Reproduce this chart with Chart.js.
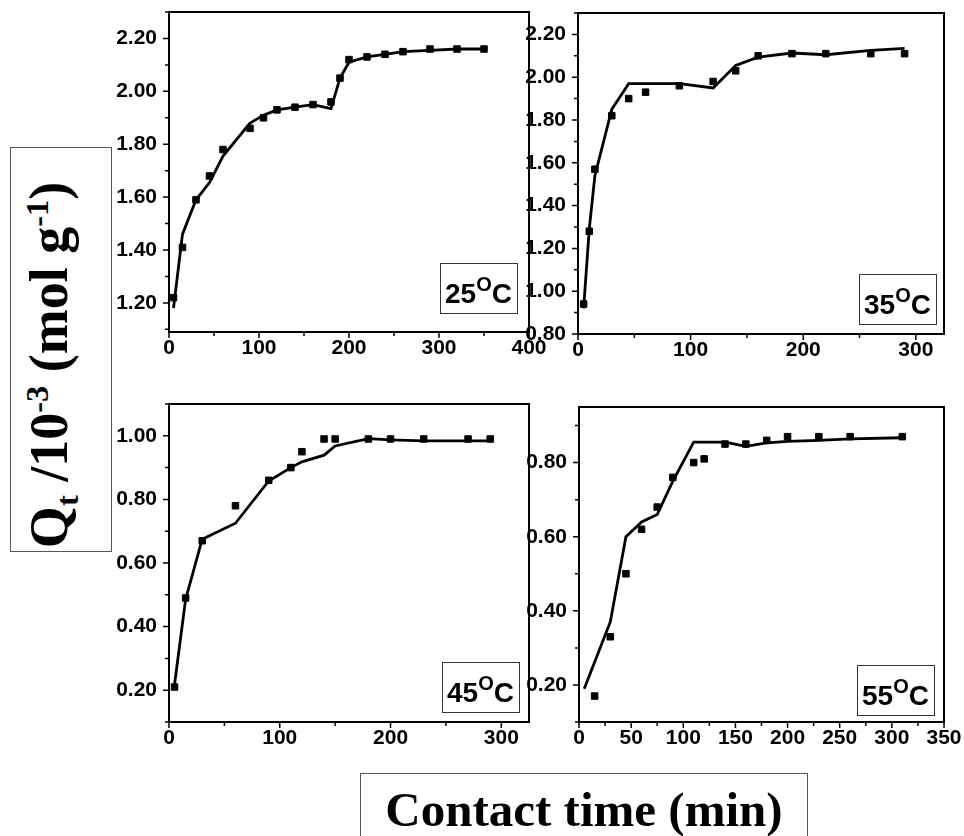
<!DOCTYPE html>
<html>
<head>
<meta charset="utf-8">
<script src="https://cdn.jsdelivr.net/npm/chart.js@4.4.0/dist/chart.umd.min.js"></script>
<style>
  body { margin: 0; background: #fff; width: 964px; height: 836px; position: relative; overflow: hidden; }
  canvas { position: absolute; }
  .ylab { position: absolute; left: 10px; top: 147px; width: 102px; height: 405px; border: 1px solid #555; box-sizing: border-box; }
  .ylab span { position: absolute; left: 50%; top: 50%; transform: translate(-50%, -50%) rotate(-90deg); margin-top: 15px; margin-left: -9px;
    white-space: nowrap; font: bold 54px "Liberation Serif", "Times New Roman", serif; color: #000; }
  .ylab sub, .ylab sup { font-size: 60%; }
  .xlab { position: absolute; left: 360px; top: 773px; width: 448px; height: 90px; border: 1px solid #555; box-sizing: border-box;
    font: bold 49px "Liberation Serif", "Times New Roman", serif; color: #000; text-align: center; line-height: 1; padding-top: 11px; }
</style>
</head>
<body>
<div class="ylab"><span>Q<sub>t</sub> /10<sup>-3</sup> (mol g<sup>-1</sup>)</span></div>
<div class="xlab">Contact time (min)</div>
<canvas id="c25" width="470" height="370" style="left:90px;top:0px"></canvas>
<canvas id="c35" width="459" height="370" style="left:505px;top:0px"></canvas>
<canvas id="c45" width="470" height="380" style="left:90px;top:380px"></canvas>
<canvas id="c55" width="459" height="380" style="left:505px;top:380px"></canvas>
<script>
// 25 oC
const t25 = [5, 15, 30, 45, 60, 90, 105, 120, 140, 160, 180, 190, 200, 220, 240, 260, 290, 320, 350];
const q25 = [1.22, 1.41, 1.59, 1.68, 1.78, 1.86, 1.90, 1.93, 1.94, 1.95, 1.96, 2.05, 2.12, 2.13, 2.14, 2.15, 2.16, 2.16, 2.16];
const fit25 = [1.18, 1.46, 1.59, 1.655, 1.755, 1.88, 1.91, 1.93, 1.94, 1.95, 1.935, 2.05, 2.11, 2.13, 2.14, 2.15, 2.155, 2.16, 2.16];

// 35 oC
const t35 = [5, 10, 15, 30, 45, 60, 90, 120, 140, 160, 190, 220, 260, 290];
const q35 = [0.94, 1.28, 1.57, 1.82, 1.90, 1.93, 1.96, 1.98, 2.03, 2.10, 2.11, 2.11, 2.11, 2.11];
const fit35 = [0.92, 1.29, 1.54, 1.85, 1.97, 1.97, 1.97, 1.95, 2.055, 2.094, 2.113, 2.105, 2.125, 2.135];

// 45 oC
const t45 = [5, 15, 30, 60, 90, 110, 120, 140, 150, 180, 200, 230, 270, 290];
const q45 = [0.21, 0.49, 0.67, 0.78, 0.86, 0.90, 0.95, 0.99, 0.99, 0.99, 0.99, 0.99, 0.99, 0.99];
const fit45 = [0.218, 0.486, 0.675, 0.725, 0.858, 0.90, 0.918, 0.939, 0.968, 0.991, 0.987, 0.984, 0.984, 0.984];

// 55 oC
const t55 = [15, 30, 45, 60, 75, 90, 110, 120, 140, 160, 180, 200, 230, 260, 310];
const q55 = [0.17, 0.33, 0.50, 0.62, 0.68, 0.76, 0.80, 0.81, 0.85, 0.85, 0.86, 0.87, 0.87, 0.87, 0.87];
const fitT55 = [5, 30, 45, 60, 75, 90, 110, 140, 160, 180, 200, 230, 260, 310];
const fit55 = [0.19, 0.37, 0.60, 0.64, 0.66, 0.75, 0.855, 0.855, 0.844, 0.853, 0.857, 0.86, 0.864, 0.867];

// tick labels
const xTicks400 = [0, 100, 200, 300, 400];
const xTicks300 = [0, 100, 200, 300];
const xTicks350 = [0, 50, 100, 150, 200, 250, 300, 350];
const yTicks25 = [1.20, 1.40, 1.60, 1.80, 2.00, 2.20];
const yTicks35 = [0.80, 1.00, 1.20, 1.40, 1.60, 1.80, 2.00, 2.20];
const yTicks45 = [0.20, 0.40, 0.60, 0.80, 1.00];
const yTicks55 = [0.20, 0.40, 0.60, 0.80];

const tickFont = { family: '"Liberation Sans", Arial, sans-serif', size: 21, weight: 'bold' };

// marco + marcas de ejes (mayores largas, menores cortas)
const frameTicks = {
    id: 'frameTicks',
    afterDraw(chart) {
        const { ctx, chartArea: a, scales } = chart;
        ctx.save();
        ctx.strokeStyle = '#000';
        ctx.lineWidth = 2;
        ctx.strokeRect(a.left, a.top, a.right - a.left, a.bottom - a.top);
        ctx.lineWidth = 1.5;
        ctx.beginPath();
        scales.x.ticks.forEach(t => {
            const px = scales.x.getPixelForValue(t.value);
            const len = t.label ? 6 : 4;
            ctx.moveTo(px, a.bottom); ctx.lineTo(px, a.bottom + len);
        });
        scales.y.ticks.forEach(t => {
            const py = scales.y.getPixelForValue(t.value);
            const len = t.label ? 6 : 4;
            ctx.moveTo(a.left, py); ctx.lineTo(a.left - len, py);
        });
        ctx.stroke();
        ctx.restore();
    }
};

// caja con la temperatura
const tempBox = {
    id: 'tempBox',
    afterDraw(chart, args, o) {
        const { ctx, chartArea: a } = chart;
        const w = 77, h = 50;
        const x = Math.round(a.right - o.right - w), y = Math.round(a.bottom - o.bottom - h);
        ctx.save();
        ctx.fillStyle = '#fff';
        ctx.fillRect(x, y, w, h);
        ctx.strokeStyle = '#333';
        ctx.lineWidth = 1;
        ctx.strokeRect(x + 0.5, y + 0.5, w, h);
        const big = 'bold 28px "Liberation Sans", Arial, sans-serif';
        const small = 'bold 20px "Liberation Sans", Arial, sans-serif';
        ctx.font = big; const w1 = ctx.measureText(o.deg).width; const w3 = ctx.measureText('C').width;
        ctx.font = small; const w2 = ctx.measureText('O').width;
        let cx = x + (w - (w1 + w2 + w3)) / 2;
        const base = y + h - 10;
        ctx.fillStyle = '#000';
        ctx.font = big; ctx.fillText(o.deg, cx, base); cx += w1;
        ctx.font = small; ctx.fillText('O', cx, base - 12); cx += w2;
        ctx.font = big; ctx.fillText('C', cx, base);
        ctx.restore();
    }
};

function buildTicks(min, max, majors, step) {
    return scale => {
        const out = [];
        for (let v = Math.ceil(min / step - 1e-6) * step; v <= max + 1e-9; v += step) {
            out.push({ value: Math.round(v * 1000) / 1000 });
        }
        scale.ticks = out;
    };
}

function isMajor(majors, v) {
    return majors.some(m => Math.abs(m - v) < 1e-6);
}

function makeChart(id, p) {
    const ctx = document.getElementById(id).getContext('2d');
    return new Chart(ctx, {
        type: 'scatter',
        data: {
            datasets: [{
                label: 'exp',
                data: p.t.map((x, i) => ({ x, y: p.q[i] })),
                backgroundColor: '#000',
                borderColor: '#000',
                pointStyle: 'rect',
                pointRadius: 4.6,
                showLine: false
            }, {
                label: 'fit',
                data: p.ft.map((x, i) => ({ x, y: p.fit[i] })),
                borderColor: '#000',
                borderWidth: 2.8,
                pointRadius: 0,
                showLine: true,
                tension: 0
            }]
        },
        options: {
            responsive: false,
            animation: false,
            layout: { padding: { top: p.padTop, right: p.padRight, left: 0, bottom: 0 } },
            plugins: {
                legend: { display: false },
                tooltip: { enabled: false },
                tempBox: { deg: p.deg, right: p.boxR, bottom: p.boxB }
            },
            scales: {
                x: {
                    type: 'linear',
                    min: 0, max: p.xMax,
                    afterBuildTicks: buildTicks(0, p.xMax, p.xTicks, p.xStep),
                    afterFit: s => { s.height = p.xH; },
                    grid: { display: false },
                    border: { display: false },
                    ticks: {
                        autoSkip: false, maxRotation: 0, padding: -4,
                        color: '#000', font: tickFont,
                        callback: v => isMajor(p.xTicks, v) ? String(v) : ''
                    }
                },
                y: {
                    type: 'linear',
                    min: p.yMin, max: p.yMax,
                    afterBuildTicks: buildTicks(p.yMin, p.yMax, p.yTicks, 0.1),
                    // ancho fijo y sin relleno extra arriba/abajo
                    afterFit: s => { s.width = p.yW; s.paddingTop = 0; s.paddingBottom = 0; },
                    grid: { display: false },
                    border: { display: false },
                    ticks: {
                        autoSkip: false, padding: 4,
                        color: '#000', font: tickFont,
                        callback: v => isMajor(p.yTicks, v) ? v.toFixed(2) : ''
                    }
                }
            }
        },
        plugins: [frameTicks, tempBox]
    });
}

makeChart('c25', { t: t25, q: q25, ft: t25, fit: fit25, deg: '25',
    xMax: 400, xTicks: xTicks400, xStep: 50, yMin: 1.09, yMax: 2.30, yTicks: yTicks25,
    yW: 79, xH: 38, padTop: 12, padRight: 31, boxR: 12, boxB: 19 });
makeChart('c35', { t: t35, q: q35, ft: t35, fit: fit35, deg: '35',
    xMax: 325, xTicks: xTicks300, xStep: 50, yMin: 0.80, yMax: 2.30, yTicks: yTicks35,
    yW: 73, xH: 36, padTop: 13, padRight: 20, boxR: 8, boxB: 10 });
makeChart('c45', { t: t45, q: q45, ft: t45, fit: fit45, deg: '45',
    xMax: 325, xTicks: xTicks300, xStep: 50, yMin: 0.10, yMax: 1.10, yTicks: yTicks45,
    yW: 79, xH: 38, padTop: 24, padRight: 31, boxR: 10, boxB: 10 });
makeChart('c55', { t: t55, q: q55, ft: fitT55, fit: fit55, deg: '55',
    xMax: 350, xTicks: xTicks350, xStep: 25, yMin: 0.10, yMax: 0.95, yTicks: yTicks55,
    yW: 74, xH: 38, padTop: 27, padRight: 20, boxR: 10, boxB: 7 });
</script>
</body>
</html>
